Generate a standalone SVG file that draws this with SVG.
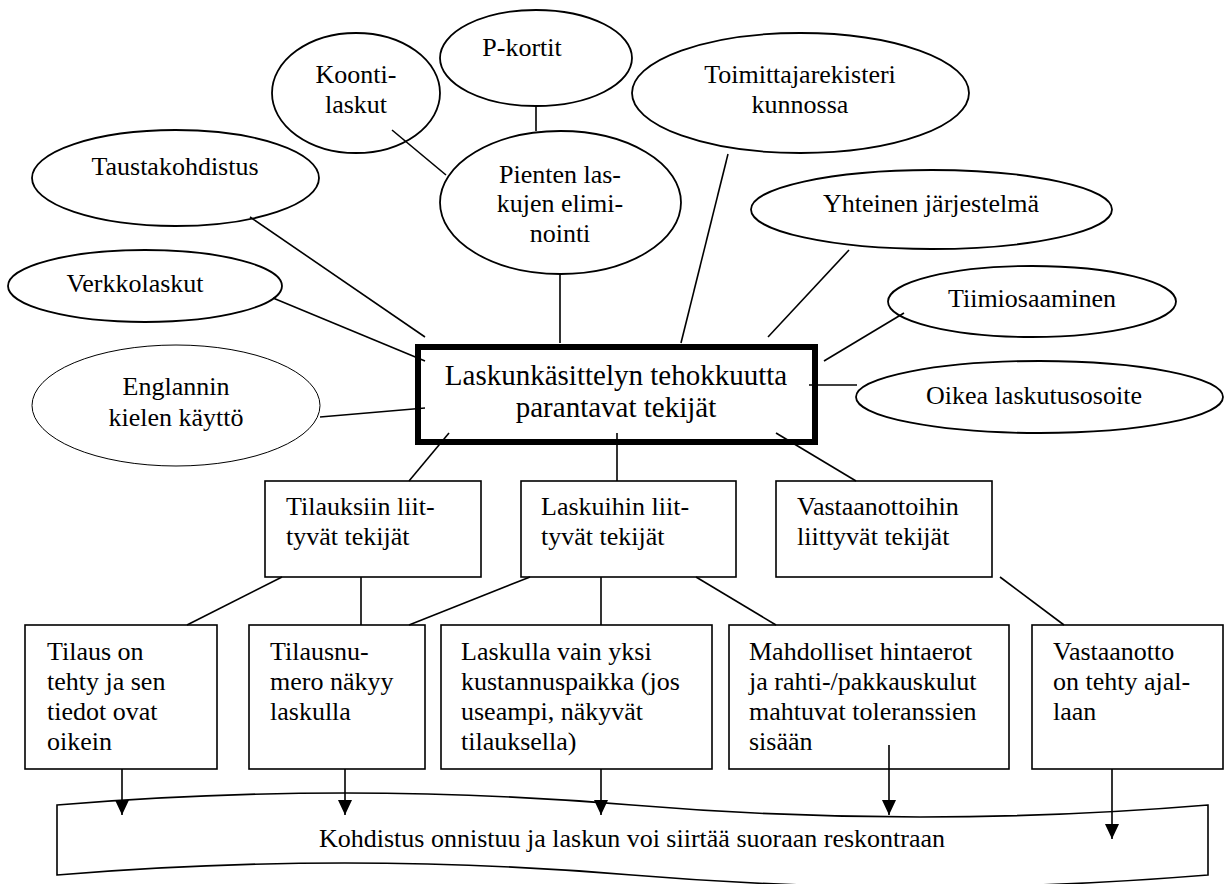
<svg xmlns="http://www.w3.org/2000/svg" width="1224" height="884" viewBox="0 0 1224 884">
<defs>
<style>
text{font-family:"Liberation Serif","Times New Roman",serif;fill:#000}
.e{fill:#fff;stroke:#000;stroke-width:1.8}
.thin{stroke-width:1}
.b{fill:#fff;stroke:#000;stroke-width:1.6}
.c line{stroke:#000;stroke-width:1.6}
.t26{font-size:26px}
.mid{text-anchor:middle}
.main{font-size:29px;text-anchor:middle}
</style>
<marker id="arr" markerUnits="userSpaceOnUse" viewBox="0 -7 15 14" markerWidth="15" markerHeight="14" refX="15" refY="0" orient="auto">
<path d="M0,-7 L15,0 L0,7 z" fill="#000"/>
</marker>
</defs>
<rect width="1224" height="884" fill="#fff"/>

<g id="wave-result">
<path class="b" d="M57,805 Q345,781 632,805 Q920,829 1208,805 L1208,875 Q920,899 632,875 Q345,851 57,875 Z"/>
<text class="t26 mid" x="632" y="847">Kohdistus onnistuu ja laskun voi siirtää suoraan reskontraan</text>
</g>

<g id="koonti">
<ellipse class="e" cx="356" cy="93" rx="84" ry="60"/>
<text class="t26 mid" x="356" y="83">Koonti-</text>
<text class="t26 mid" x="356" y="113">laskut</text>
</g>
<g id="pkortit">
<ellipse class="e" cx="536" cy="58" rx="96" ry="48"/>
<text class="t26 mid" x="522" y="56">P-kortit</text>
</g>
<g id="pienten">
<ellipse class="e" cx="560.5" cy="202.5" rx="120.5" ry="71.5"/>
<text class="t26 mid" x="560" y="183">Pienten las-</text>
<text class="t26 mid" x="560" y="212">kujen elimi-</text>
<text class="t26 mid" x="560" y="242">nointi</text>
</g>
<g id="toimittaja">
<ellipse class="e" cx="800.5" cy="93" rx="168.5" ry="60"/>
<text class="t26 mid" x="800" y="83">Toimittajarekisteri</text>
<text class="t26 mid" x="800" y="113">kunnossa</text>
</g>
<g id="taustakohdistus">
<ellipse class="e" cx="175.5" cy="178" rx="143.5" ry="48"/>
<text class="t26 mid" x="175" y="175">Taustakohdistus</text>
</g>
<g id="yhteinen">
<ellipse class="e" cx="931.5" cy="209.5" rx="180.5" ry="39.5"/>
<text class="t26 mid" x="931" y="212">Yhteinen järjestelmä</text>
</g>
<g id="verkkolaskut">
<ellipse class="e" cx="145" cy="286" rx="137" ry="36"/>
<text class="t26 mid" x="135" y="292">Verkkolaskut</text>
</g>
<g id="tiimiosaaminen">
<ellipse class="e" cx="1032" cy="301.5" rx="144" ry="35.5"/>
<text class="t26 mid" x="1032" y="307">Tiimiosaaminen</text>
</g>
<g id="englannin">
<ellipse class="e thin" cx="176" cy="405.5" rx="144" ry="60.5"/>
<text class="t26 mid" x="176" y="395">Englannin</text>
<text class="t26 mid" x="176" y="426">kielen käyttö</text>
</g>
<g id="oikea">
<ellipse class="e" cx="1039.5" cy="397" rx="183.5" ry="36"/>
<text class="t26 mid" x="1034" y="404">Oikea laskutusosoite</text>
</g>

<g id="main">
<rect x="418" y="347" width="397" height="95" fill="#fff" stroke="#000" stroke-width="6"/>
<text class="main" x="616" y="385">Laskunkäsittelyn tehokkuutta</text>
<text class="main" x="616" y="417">parantavat tekijät</text>
</g>

<g id="tilauksiin">
<rect class="b" x="265" y="481" width="216" height="96"/>
<text class="t26" x="286" y="515">Tilauksiin liit-</text>
<text class="t26" x="286" y="545">tyvät tekijät</text>
</g>
<g id="laskuihin">
<rect class="b" x="521" y="481" width="215" height="96"/>
<text class="t26" x="541" y="515">Laskuihin liit-</text>
<text class="t26" x="541" y="545">tyvät tekijät</text>
</g>
<g id="vastaanottoihin">
<rect class="b" x="776" y="481" width="216" height="96"/>
<text class="t26" x="797" y="515">Vastaanottoihin</text>
<text class="t26" x="797" y="545">liittyvät tekijät</text>
</g>

<g id="tilaus-on">
<rect class="b" x="25" y="625" width="192" height="144"/>
<text class="t26" x="47" y="660">Tilaus on</text>
<text class="t26" x="47" y="690">tehty ja sen</text>
<text class="t26" x="47" y="720">tiedot ovat</text>
<text class="t26" x="47" y="750">oikein</text>
</g>
<g id="tilausnumero">
<rect class="b" x="249" y="625" width="176" height="144"/>
<text class="t26" x="270" y="660">Tilausnu-</text>
<text class="t26" x="270" y="690">mero näkyy</text>
<text class="t26" x="270" y="720">laskulla</text>
</g>
<g id="laskulla">
<rect class="b" x="441" y="625" width="271" height="144"/>
<text class="t26" x="461" y="660">Laskulla vain yksi</text>
<text class="t26" x="461" y="690">kustannuspaikka (jos</text>
<text class="t26" x="461" y="720">useampi, näkyvät</text>
<text class="t26" x="461" y="750">tilauksella)</text>
</g>
<g id="mahdolliset">
<rect class="b" x="729" y="625" width="280" height="144"/>
<text class="t26" x="749" y="660">Mahdolliset hintaerot</text>
<text class="t26" x="749" y="690">ja rahti-/pakkauskulut</text>
<text class="t26" x="749" y="720">mahtuvat toleranssien</text>
<text class="t26" x="749" y="750">sisään</text>
</g>
<g id="vastaanotto">
<rect class="b" x="1032" y="625" width="191" height="144"/>
<text class="t26" x="1053" y="660">Vastaanotto</text>
<text class="t26" x="1053" y="690">on tehty ajal-</text>
<text class="t26" x="1053" y="720">laan</text>
</g>

<g id="connectors" class="c">
<line x1="536" y1="106" x2="536" y2="131"/>
<line x1="392" y1="130" x2="446" y2="175"/>
<line x1="560" y1="274" x2="560" y2="343"/>
<line x1="728" y1="154" x2="681" y2="343"/>
<line x1="250" y1="217" x2="425" y2="337"/>
<line x1="849" y1="250" x2="768" y2="337"/>
<line x1="273" y1="298" x2="425" y2="361"/>
<line x1="904" y1="313" x2="824" y2="361"/>
<line x1="320" y1="417" x2="425" y2="408"/>
<line x1="809" y1="385" x2="857" y2="385"/>
<line x1="449" y1="433" x2="409" y2="481"/>
<line x1="617" y1="433" x2="617" y2="481"/>
<line x1="776" y1="433" x2="856" y2="481"/>
<line x1="282" y1="577" x2="187" y2="625"/>
<line x1="361" y1="577" x2="361" y2="625"/>
<line x1="530" y1="577" x2="409" y2="625"/>
<line x1="601" y1="577" x2="601" y2="625"/>
<line x1="696" y1="577" x2="776" y2="625"/>
<line x1="1000" y1="577" x2="1064" y2="625"/>
<line x1="122" y1="769" x2="122" y2="815" marker-end="url(#arr)"/>
<line x1="345" y1="769" x2="345" y2="815" marker-end="url(#arr)"/>
<line x1="601" y1="769" x2="601" y2="815" marker-end="url(#arr)"/>
<line x1="889" y1="745" x2="889" y2="815" marker-end="url(#arr)"/>
<line x1="1112" y1="769" x2="1112" y2="839" marker-end="url(#arr)"/>
</g>
</svg>
